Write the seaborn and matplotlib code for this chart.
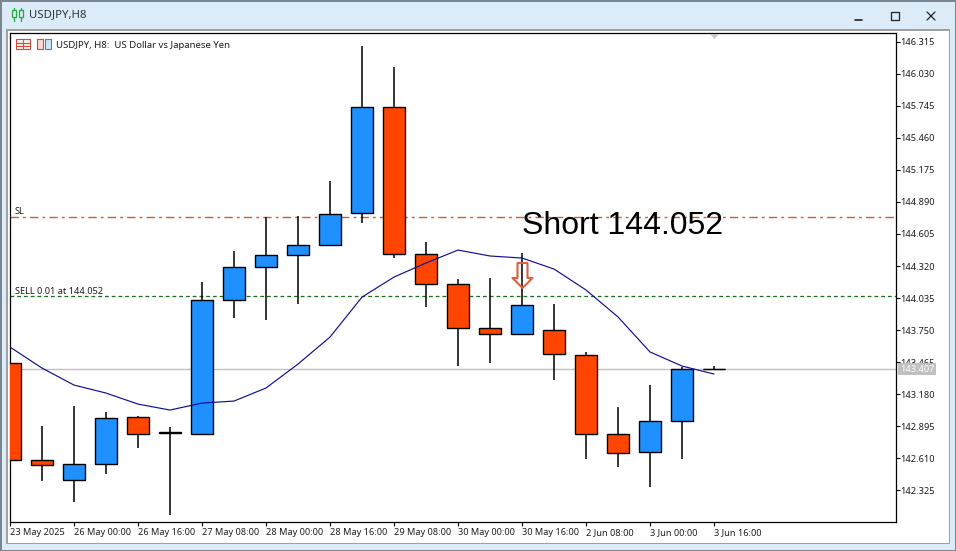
import matplotlib
matplotlib.use("Agg")
import matplotlib.pyplot as plt
from matplotlib.patches import Rectangle
from matplotlib.path import Path
import pandas as pd
import seaborn as sns

W, H = 956, 551

# velas H8
opens = [143.458, 142.596, 142.418, 142.560, 142.978, 142.845, 142.827, 144.018,
         144.311, 144.418, 144.506, 144.791, 145.733, 144.427, 144.160, 143.769,
         143.716, 143.751, 143.529, 142.827, 142.667, 142.942, 143.407]
closes = [142.596, 142.551, 142.560, 142.969, 142.827, 142.836, 144.018, 144.311,
          144.418, 144.506, 144.782, 145.733, 144.427, 144.160, 143.769, 143.716,
          143.973, 143.538, 142.827, 142.658, 142.942, 143.407, 143.407]
highs = [143.458, 142.898, 143.076, 143.022, 142.987, 142.889, 144.178, 144.453,
         144.755, 144.764, 145.075, 146.275, 146.088, 144.533, 144.204, 144.213,
         144.435, 143.982, 143.556, 143.067, 143.262, 143.422, 143.431]
lows = [142.596, 142.409, 142.223, 142.471, 142.702, 142.107, 142.827, 143.858,
        143.840, 143.982, 144.506, 144.702, 144.391, 143.955, 143.431, 143.458,
        143.707, 143.307, 142.605, 142.534, 142.356, 142.605, 143.396]
ma_values = [143.600, 143.413, 143.262, 143.191, 143.093, 143.040, 143.102, 143.120,
             143.236, 143.449, 143.689, 144.044, 144.222, 144.347, 144.462, 144.409,
             144.391, 144.293, 144.107, 143.867, 143.556, 143.431, 143.360]

price_ticks = [142.325, 142.610, 142.895, 143.180, 143.465, 143.750, 144.035, 144.320,
               144.605, 144.890, 145.175, 145.460, 145.745, 146.030, 146.315]
time_positions = [0, 2, 4, 6, 8, 10, 12, 14, 16, 18, 20, 22]
time_labels = ["23 May 2025", "26 May 00:00", "26 May 16:00", "27 May 08:00", "28 May 00:00",
               "28 May 16:00", "29 May 08:00", "30 May 00:00", "30 May 16:00", "2 Jun 08:00",
               "3 Jun 00:00", "3 Jun 16:00"]

last_price = 143.407
sell_price = 144.052
sl_price = 144.755
arrow_index = 16
arrow_price = 144.244

BLUE = "#1e90ff"
ORANGE = "#ff4500"
TEXT = "#1c1c1c"

sns.set_style("white")
plt.rcParams["font.family"] = ["Noto Sans", "DejaVu Sans"]

df = pd.DataFrame({"idx": range(len(opens)), "open": opens, "close": closes,
                   "high": highs, "low": lows, "ma": ma_values})

fig = plt.figure(figsize=(W / 100, H / 100), dpi=100, facecolor="#dcebf8")


def px_rect(x0, y0, x1, y1, color, z=0, edge="none", lw=0.8):
    # retangulo da janela em pixels (y de cima para baixo)
    fig.add_artist(Rectangle((x0 / W, 1 - y1 / H), (x1 - x0) / W, (y1 - y0) / H,
                             transform=fig.transFigure, facecolor=color, edgecolor=edge, lw=lw, zorder=z))


def px_line(xs, ys, color, lw=1.0, z=2):
    fig.add_artist(plt.Line2D([x / W for x in xs], [1 - y / H for y in ys],
                              transform=fig.transFigure, color=color, lw=lw, zorder=z))


# moldura da janela
px_rect(0, 0, W, 1.5, "#7a8590")
px_rect(0, H - 1.5, W, H, "#7a8590")
px_rect(0, 0, 1.5, H, "#7a8590")
px_rect(W - 1.5, 0, W, H, "#7a8590")
px_rect(6, 29, 950, 544, "#a0a0a0")
px_rect(8, 31, 949, 543, "white")

# eixo do grafico
ax = fig.add_axes([10 / W, 1 - 522 / H, (895.5 - 10) / W, (522 - 33) / H])
ax.set_xlim(0.0, 27.67)
ax.set_ylim(142.045, 146.391)
ax.set_facecolor("white")
for spine in ax.spines.values():
    spine.set_color("black")
    spine.set_linewidth(0.9)

ax.yaxis.tick_right()
ax.set_yticks(price_ticks)
ax.set_yticklabels([f"{p:.3f}" for p in price_ticks])
ax.set_xticks(time_positions)
ax.set_xticklabels(time_labels, ha="left")
ax.tick_params(axis="both", length=3, width=0.8, color="black", labelsize=6.6,
               labelcolor=TEXT, left=False, right=True, bottom=True)
ax.tick_params(axis="y", pad=0.5)
ax.tick_params(axis="x", pad=1.5)

# linhas de preco
ax.axhline(last_price, color="#c0c0c0", lw=1.0, zorder=1)
ax.axhline(sell_price, color="#1b6e1b", lw=0.9, ls=(0, (3, 2.4)), zorder=1)
ax.axhline(sl_price, color="#c8602e", lw=1.0, ls=(0, (6, 3, 2, 3)), zorder=1)

# velas
ax.vlines(df["idx"], df["low"], df["high"], color="black", lw=1.1, zorder=2)
body_colors = [BLUE if c >= o else ORANGE for o, c in zip(opens, closes)]
ax.bar(df["idx"], df["close"] - df["open"], bottom=df["open"], width=0.69,
       color=body_colors, edgecolor="black", linewidth=1.0, zorder=3)

# doji sem corpo: so o traco horizontal
doji = df[df["open"] == df["close"]]
ax.hlines(doji["open"], doji["idx"] - 0.345, doji["idx"] + 0.345, color="black", lw=0.8, zorder=3)

# media movel
sns.lineplot(data=df, x="idx", y="ma", color="#0f0f96", lw=0.85, ax=ax, zorder=4)
ax.set_xlabel("")
ax.set_ylabel("")

# seta de venda (so contorno, o pavio aparece por dentro)
arrow = Path([(-0.4, 1.0), (0.4, 1.0), (0.4, -0.2), (0.8, -0.2), (0, -1.0), (-0.8, -0.2), (-0.4, -0.2), (-0.4, 1.0)],
             closed=True)
ax.plot([arrow_index], [arrow_price], marker=arrow, ms=18, mfc="none", mec="#dd6040", mew=1.5, zorder=5, ls="none")

# textos dentro do grafico
fig.text(522 / W, 1 - 226 / H, "Short 144.052", family="Liberation Sans", fontsize=23,
         color="black", ha="left", va="center", zorder=6)
fig.text(15 / W, 1 - 212 / H, "SL", fontsize=6.6, color=TEXT, va="center", zorder=6)
fig.text(15 / W, 1 - 291 / H, "SELL 0.01 at 144.052", fontsize=6.6, color=TEXT, va="center", zorder=6)
fig.text(56 / W, 1 - 45 / H, "USDJPY, H8:  US Dollar vs Japanese Yen", fontsize=6.9, color=TEXT,
         va="center", zorder=6)

# etiqueta do ultimo preco
px_rect(898, 363, 936, 375, "#c0c0c0", z=5)
fig.text(917 / W, 1 - 369 / H, f"{last_price:.3f}", fontsize=6.6, color="white", ha="center", va="center", zorder=6)

# marca do grafico no topo
fig.add_artist(plt.Polygon([(710 / W, 1 - 34 / H), (719 / W, 1 - 34 / H), (714.5 / W, 1 - 39 / H)],
                           transform=fig.transFigure, facecolor="#c8c8c8", edgecolor="none", zorder=6))

# barra de titulo
fig.text(29 / W, 1 - 14.5 / H, "USDJPY,H8", fontsize=8.2, color="#2a3440", va="center")
px_line([14, 14], [7.5, 20.5], "#1fa83a", 0.9)
px_line([21, 21], [7.5, 20.5], "#1fa83a", 0.9)
px_rect(12, 10, 16, 17, "#dcebf8", z=3, edge="#1fa83a", lw=0.9)
px_rect(19, 10, 23, 17, "#dcebf8", z=3, edge="#1fa83a", lw=0.9)
px_line([855, 862], [20, 20], "#222222", 1.2)
px_rect(891, 12, 899, 20, "none", z=3, edge="#222222", lw=0.9)
px_line([927, 935], [12, 20], "#222222", 0.9)
px_line([927, 935], [20, 12], "#222222", 0.9)

# icones da legenda
px_rect(15.5, 39.5, 29.5, 49, "#fdeeea", z=6, edge="#c8503c")
for y in [42.5, 45.5]:
    px_line([16, 29], [y, y], "#c8503c", 0.8, z=7)
px_line([22.5, 22.5], [40, 49], "#3a86c8", 0.8, z=7)
px_rect(36.5, 39.5, 43, 49, "#fbd8d0", z=6, edge="#c8503c")
px_rect(44.5, 39.5, 50.5, 49, "#cfe6fa", z=6, edge="#3a86c8")

fig.savefig("out.png", dpi=100, facecolor=fig.get_facecolor())
